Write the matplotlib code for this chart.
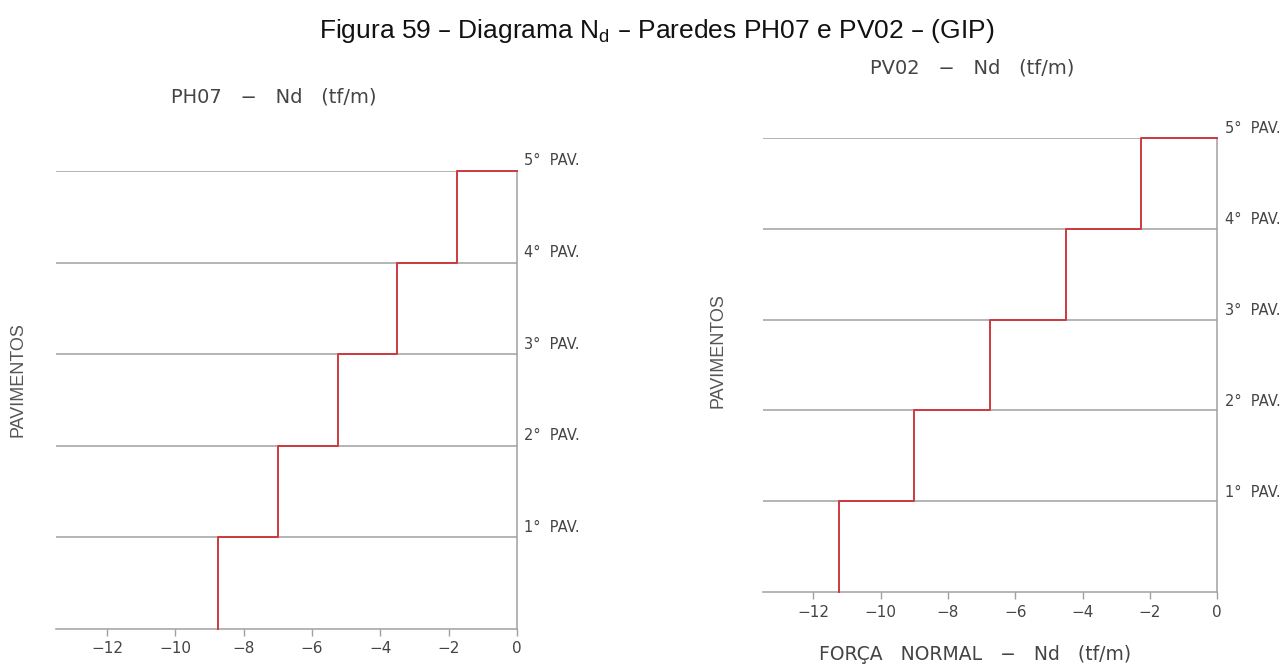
import matplotlib
matplotlib.use("Agg")
import matplotlib.pyplot as plt
from matplotlib.transforms import offset_copy

plt.rcParams["font.family"] = ["DejaVu Sans"]

# ---- data ----
floor_labels = ["1°  PAV.", "2°  PAV.", "3°  PAV.", "4°  PAV.", "5°  PAV."]
floor_levels = [1, 2, 3, 4, 5]
ph07_nd = [-8.75, -7.00, -5.25, -3.50, -1.75]
pv02_nd = [-11.25, -9.00, -6.75, -4.50, -2.25]
xticks = [-12, -10, -8, -6, -4, -2, 0]
title_main = "Figura 59 – Diagrama N$_\\mathregular{d}$ – Paredes PH07 e PV02 – (GIP)"
title_ph07 = "PH07   −   Nd   (tf/m)"
title_pv02 = "PV02   −   Nd   (tf/m)"
xlabel_txt = "FORÇA   NORMAL   −   Nd   (tf/m)"
ylabel_txt = "PAVIMENTOS"

GRAY = "#a0a0a0"
RED = "#cc3a3d"
TXT = "#444444"

fig = plt.figure(figsize=(12.83, 6.71), dpi=100)


def step_xy(vals, levels):
    xs, ys = [], []
    prev = 0
    for v, lv in zip(vals, levels):
        xs += [v, v]
        ys += [prev, lv]
        prev = lv
    xs.append(0)
    ys.append(levels[-1])
    return xs, ys


def draw(ax, vals, lab_dy):
    ax.set_xlim(-13.5, 0)
    ax.set_ylim(0, 5)
    for lv in floor_levels:
        ax.axhline(lv, color=GRAY, lw=1.1, zorder=1)
    xs, ys = step_xy(vals, floor_levels)
    ax.plot(xs, ys, color=RED, lw=1.4, zorder=3, clip_on=False)
    for s in ["top", "left"]:
        ax.spines[s].set_visible(False)
    for s in ["bottom", "right"]:
        ax.spines[s].set_color(GRAY)
        ax.spines[s].set_linewidth(1.1)
    ax.set_xticks(xticks)
    ax.set_xticklabels([("−%d" % abs(t)) if t < 0 else "0" for t in xticks])
    ax.tick_params(axis="x", colors=GRAY, labelcolor=TXT, length=5,
                   width=1, labelsize=11, pad=4)
    ax.set_yticks([])
    tr = offset_copy(ax.get_yaxis_transform(), fig=fig, x=7.5, y=0,
                     units="dots")
    for lv, lab in zip(floor_levels, floor_labels):
        ax.text(1.0, lv + lab_dy, lab, transform=tr,
                fontsize=10.5, color=TXT, va="center", ha="left",
                clip_on=False)


ax1 = fig.add_axes([0.0436, 0.0626, 0.3593, 0.6826])
draw(ax1, ph07_nd, 0.11)
ax2 = fig.add_axes([0.5947, 0.1177, 0.3539, 0.6766])
draw(ax2, pv02_nd, 0.10)

fig.text(0.512, 0.954, title_main, ha="center", va="center",
         fontsize=19, family="Liberation Sans", color="#111111")
fig.text(0.2136, 0.856, title_ph07, ha="center", va="center",
         fontsize=14, color=TXT)
fig.text(0.758, 0.899, title_pv02, ha="center", va="center",
         fontsize=14, color=TXT)
fig.text(0.760, 0.024, xlabel_txt, ha="center", va="center",
         fontsize=13.5, color=TXT)
fig.text(0.014, 0.434, ylabel_txt, ha="center", va="center", rotation=90,
         fontsize=13, family="Liberation Sans", color="#555555")
fig.text(0.560, 0.478, ylabel_txt, ha="center", va="center", rotation=90,
         fontsize=13, family="Liberation Sans", color="#555555")

fig.savefig("out.png", dpi=100, facecolor="white")
